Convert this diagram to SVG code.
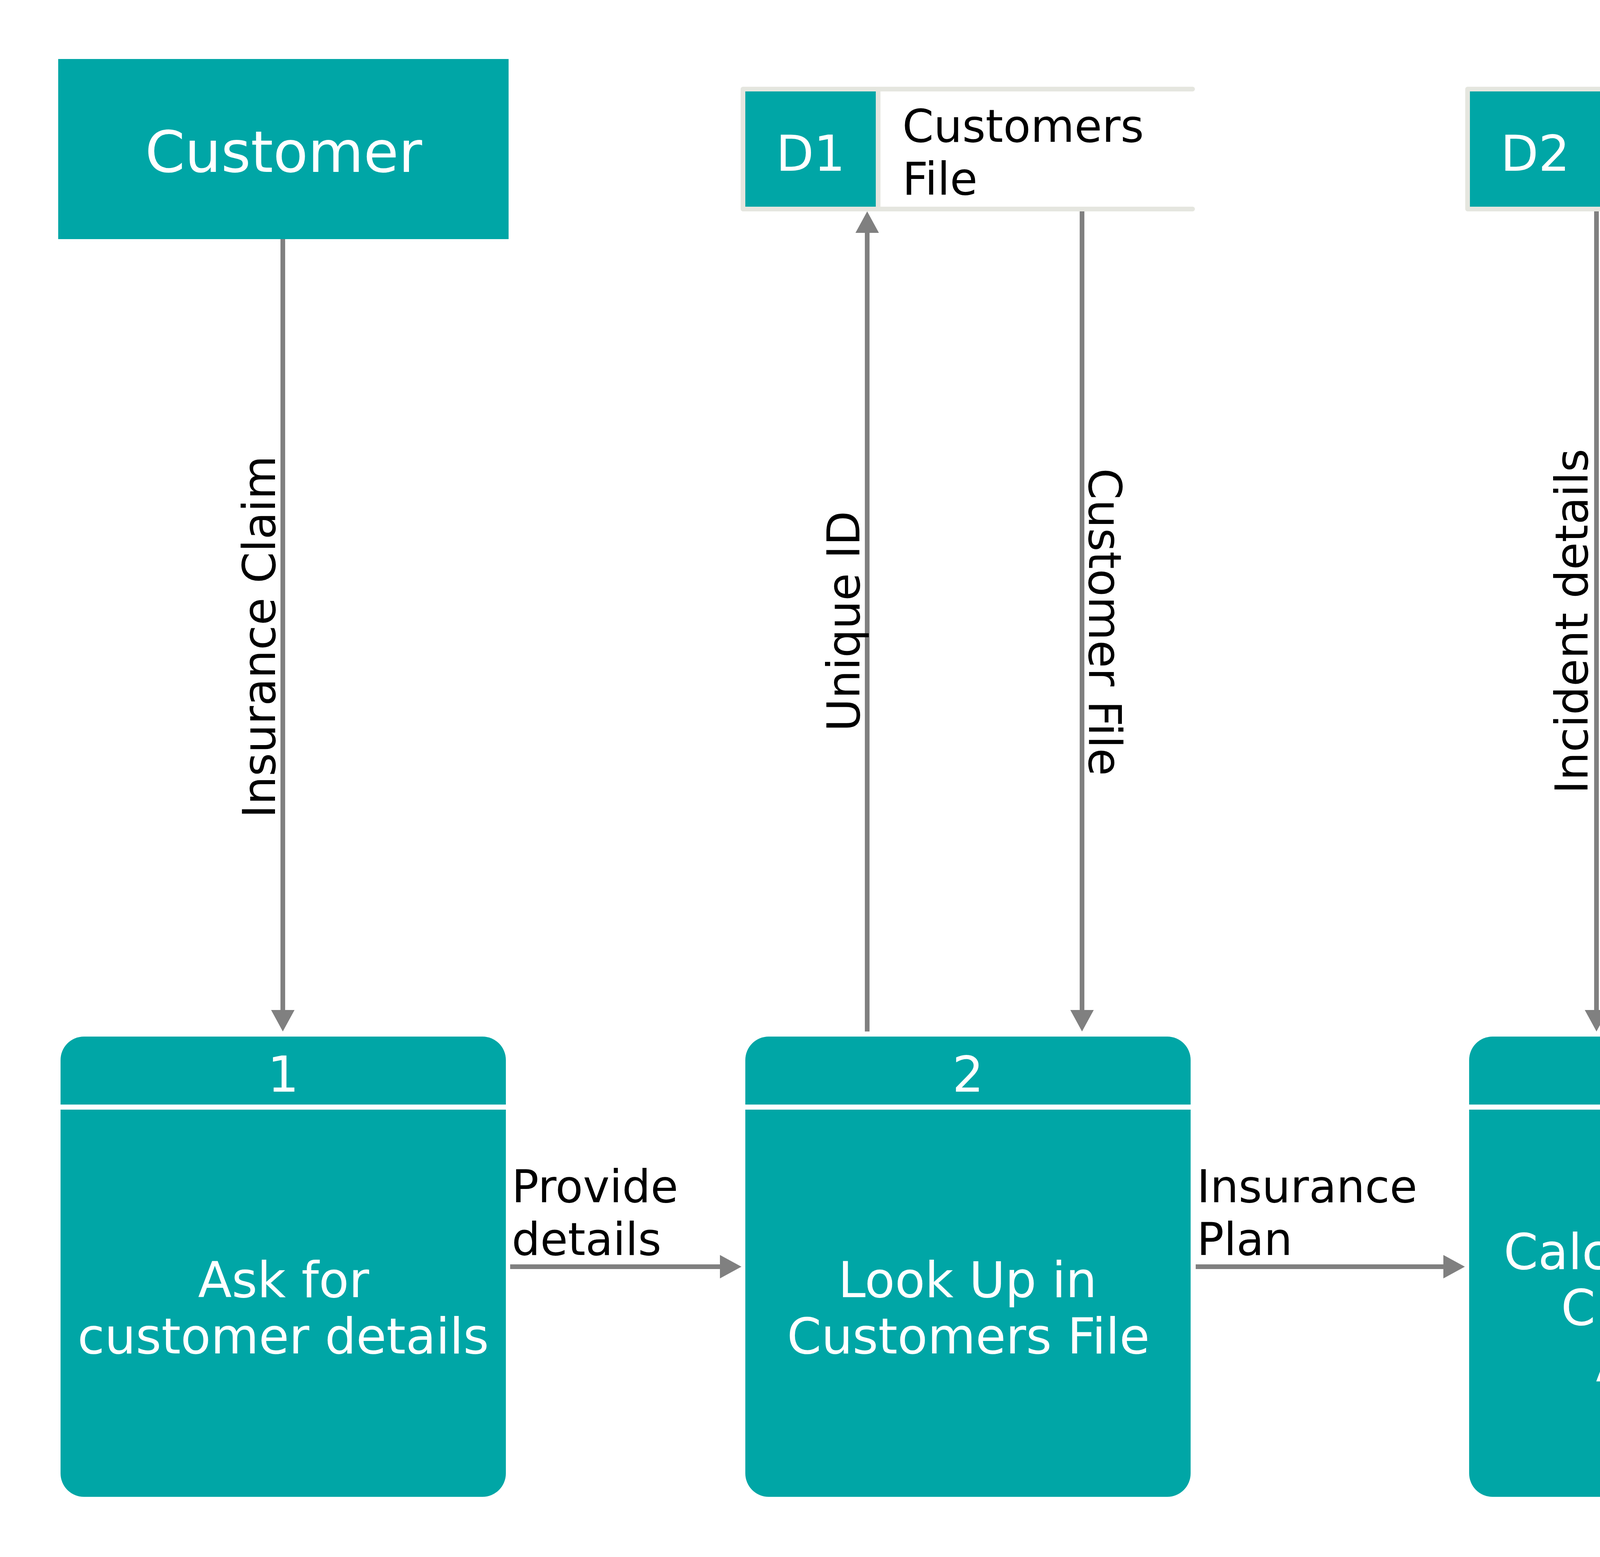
<svg xmlns="http://www.w3.org/2000/svg" width="7516" height="3985" viewBox="0 0 7516 3985">
<style>
.teal{fill:#00a6a6}
.bar{fill:none;stroke:#e5e6df;stroke-width:12;stroke-linecap:round}
.tx{font-family:'DejaVu Sans',Verdana,sans-serif}
.ent{font-size:146px;fill:#fff;text-anchor:middle}
.num{font-size:126px;fill:#fff;text-anchor:middle}
.body{font-size:126px;fill:#fff;text-anchor:middle}
.lbl{font-size:115px;fill:#000}
.mid{text-anchor:middle}
.div{stroke:#fff;stroke-width:13}
.conn line{stroke:#808080;stroke-width:12}
</style>
<defs>
<marker id="ah" markerUnits="userSpaceOnUse" markerWidth="55" markerHeight="60" refX="2" refY="30" orient="auto" viewBox="0 0 55 60">
<path d="M0,0 L55,30 L0,60 Z" fill="#808080"/>
</marker>
</defs>
<rect width="7516" height="3985" fill="#fff"/>

<g id="customer1">
<rect class="teal" x="149" y="151" width="1153" height="461"/>
<text class="tx ent" x="726" y="440">Customer</text>
</g>

<g id="customer2">
<rect class="teal" x="5646" y="151" width="1151" height="461"/>
<text class="tx ent" x="6222" y="440">Customer</text>
</g>

<g id="d1">
<rect class="teal" x="1908" y="234" width="334" height="295"/>
<path class="bar" d="M1902,228 H3053 M1902,535 H3053 M1902,228 V535 M2248,228 V535"/>
<text class="tx num" x="2075" y="437">D1</text>
<text class="tx lbl" x="2310" y="363">Customers</text>
<text class="tx lbl" x="2310" y="498">File</text>
</g>

<g id="d2">
<rect class="teal" x="3763" y="234" width="334" height="295"/>
<path class="bar" d="M3757,228 H4906 M3757,535 H4906 M3757,228 V535 M4103,228 V535"/>
<text class="tx num" x="3930" y="437">D2</text>
<text class="tx lbl" x="4162" y="363">Transaction</text>
<text class="tx lbl" x="4162" y="498">File</text>
</g>

<g id="p1">
<rect class="teal" x="155" y="2653" width="1140" height="1178" rx="60" ry="60"/>
<line class="div" x1="155" y1="2833.5" x2="1295" y2="2833.5"/>
<text class="tx num" x="725" y="2794">1</text>
<text class="tx body" x="726" y="3320">Ask for</text>
<text class="tx body" x="725" y="3464">customer details</text>
</g>

<g id="p2">
<rect class="teal" x="1908" y="2653" width="1140" height="1178" rx="60" ry="60"/>
<line class="div" x1="1908" y1="2833.5" x2="3048" y2="2833.5"/>
<text class="tx num" x="2478" y="2794">2</text>
<text class="tx body" x="2477" y="3320">Look Up in</text>
<text class="tx body" x="2479" y="3464">Customers File</text>
</g>

<g id="p3">
<rect class="teal" x="3761" y="2653" width="1140" height="1178" rx="60" ry="60"/>
<line class="div" x1="3761" y1="2833.5" x2="4901" y2="2833.5"/>
<text class="tx num" x="4332" y="2794">3</text>
<text class="tx body" x="4311" y="3248">Calculate Total</text>
<text class="tx body" x="4310" y="3391">Claimable</text>
<text class="tx body" x="4333" y="3536">Amount</text>
</g>

<g id="p4">
<rect class="teal" x="5653" y="2653" width="1140" height="1178" rx="60" ry="60"/>
<line class="div" x1="5653" y1="2833.5" x2="6793" y2="2833.5"/>
<text class="tx num" x="6222" y="2794">4</text>
<text class="tx body" x="6221" y="3320">Claim Money and</text>
<text class="tx body" x="6245" y="3464">Issue Receipt</text>
</g>

<g id="connectors" class="conn">
<line x1="724" y1="612" x2="724" y2="2587" marker-end="url(#ah)"/>
<line x1="2220" y1="2640" x2="2220" y2="594" marker-end="url(#ah)"/>
<line x1="2770" y1="541" x2="2770" y2="2587" marker-end="url(#ah)"/>
<line x1="4087" y1="541" x2="4087" y2="2587" marker-end="url(#ah)"/>
<line x1="4620" y1="2640" x2="4620" y2="594" marker-end="url(#ah)"/>
<line x1="5967" y1="612" x2="5967" y2="2587" marker-end="url(#ah)"/>
<line x1="6570" y1="2640" x2="6570" y2="665" marker-end="url(#ah)"/>
<line x1="1306" y1="3242" x2="1845" y2="3242" marker-end="url(#ah)"/>
<line x1="3061" y1="3242" x2="3697" y2="3242" marker-end="url(#ah)"/>
<line x1="4913" y1="3242" x2="5589" y2="3242" marker-end="url(#ah)"/>
</g>

<g id="connector-labels">
<text class="tx lbl mid" transform="translate(704,1630) rotate(-90)">Insurance Claim</text>
<text class="tx lbl mid" transform="translate(2200,1590) rotate(-90)">Unique ID</text>
<text class="tx lbl mid" transform="translate(2788,1592) rotate(90)">Customer File</text>
<text class="tx lbl mid" transform="translate(4064,1590) rotate(-90)">Incident details</text>
<text class="tx lbl mid" transform="translate(4641,1595) rotate(90)">Claimable Amount</text>
<text class="tx lbl mid" transform="translate(5947,1630) rotate(-90)">Credit/Debit Card</text>
<text class="tx lbl mid" transform="translate(6597,1632) rotate(90)">Payment Receipt</text>
<text class="tx lbl" x="1310" y="3077">Provide</text>
<text class="tx lbl" x="1310" y="3212">details</text>
<text class="tx lbl" x="3064" y="3077">Insurance</text>
<text class="tx lbl" x="3064" y="3212">Plan</text>
<text class="tx lbl" x="4917" y="2942">Amount</text>
<text class="tx lbl" x="4917" y="3077">to be</text>
<text class="tx lbl" x="4917" y="3212">claimed</text>
</g>
</svg>
